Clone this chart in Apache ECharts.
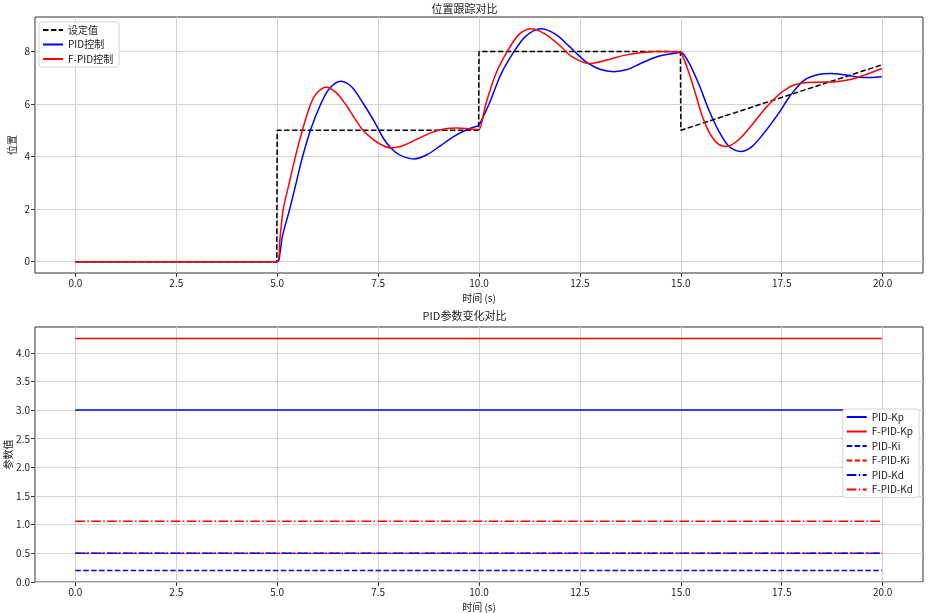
<!DOCTYPE html>
<html>
<head>
<meta charset="utf-8">
<script src="https://cdn.jsdelivr.net/npm/echarts@6/dist/echarts.min.js"></script>
<style>
  html, body { margin: 0; padding: 0; background: #fff; }
  #chart { width: 929px; height: 613px; }
</style>
</head>
<body>
<div id="chart"></div>
<script>
// 时间轴刻度
const timeTicks = [0, 2.5, 5, 7.5, 10, 12.5, 15, 17.5, 20]
const posTicks = [0, 2, 4, 6, 8]
const paramTicks = [0, 0.5, 1, 1.5, 2, 2.5, 3, 3.5, 4]

// 设定值 [t, value]
const setpoint = [[0, 0], [4.99, 0], [5, 5], [9.99, 5], [10, 8], [14.99, 8], [15, 5], [19.98, 7.49]]

// PID控制 响应
const pidCurve = [
  [0, 0], [5.0, 0], [5.07, 0.35], [5.13, 0.97], [5.31, 2.0], [5.47, 3.0], [5.63, 4.0], [5.83, 5.03],
  [6.08, 6.0], [6.3, 6.6], [6.58, 6.87], [6.85, 6.65], [7.14, 6.0], [7.4, 5.35], [7.65, 4.65],
  [7.9, 4.2], [8.14, 3.99], [8.39, 3.91], [8.72, 4.08], [9.05, 4.42], [9.38, 4.77], [9.71, 5.03],
  [9.96, 5.16], [10.0, 5.19], [10.25, 6.0], [10.54, 7.12], [10.87, 8.0], [11.16, 8.58], [11.53, 8.86],
  [11.9, 8.65], [12.23, 8.2], [12.47, 7.85], [12.68, 7.57], [13.01, 7.31], [13.34, 7.23], [13.67, 7.31],
  [14.0, 7.54], [14.41, 7.8], [14.91, 7.95], [15.0, 7.97], [15.2, 7.57], [15.45, 6.74], [15.69, 5.79],
  [15.94, 4.97], [16.19, 4.39], [16.48, 4.19], [16.77, 4.39], [17.1, 4.97], [17.43, 5.66], [17.67, 6.23],
  [17.8, 6.49], [18.05, 6.9], [18.38, 7.11], [18.71, 7.16], [19.04, 7.11], [19.37, 7.03], [19.7, 7.01],
  [19.98, 7.04]
]

// F-PID控制 响应
const fpidCurve = [
  [0, 0], [5.0, 0], [5.07, 0.9], [5.15, 2.0], [5.3, 3.0], [5.45, 4.0], [5.63, 5.03], [5.83, 6.0],
  [6.0, 6.45], [6.22, 6.64], [6.45, 6.45], [6.7, 5.98], [6.9, 5.5], [7.11, 5.03], [7.3, 4.75],
  [7.52, 4.5], [7.81, 4.33], [8.14, 4.43], [8.47, 4.67], [8.8, 4.9], [9.13, 5.05], [9.46, 5.09],
  [9.79, 5.05], [9.96, 5.03], [10.0, 5.02], [10.17, 6.0], [10.41, 7.12], [10.7, 8.0], [10.99, 8.65],
  [11.28, 8.86], [11.65, 8.65], [12.06, 8.14], [12.3, 7.8], [12.72, 7.54], [13.17, 7.67], [13.59, 7.85],
  [14.0, 7.95], [14.41, 8.0], [14.91, 7.99], [15.0, 7.96], [15.2, 7.19], [15.37, 6.36], [15.53, 5.54],
  [15.73, 4.84], [15.94, 4.46], [16.15, 4.38], [16.44, 4.65], [16.77, 5.22], [17.1, 5.85], [17.43, 6.36],
  [17.67, 6.62], [17.8, 6.72], [18.05, 6.81], [18.38, 6.83], [18.79, 6.84], [19.2, 6.93], [19.53, 7.09],
  [19.98, 7.35]
]

// PID参数 (恒定)
const paramTime = [0, 19.98]
const pidKp = [3.0, 3.0]
const fpidKp = [4.25, 4.25]
const pidKi = [0.2, 0.2]
const fpidKi = [0.5, 0.5]
const pidKd = [0.5, 0.5]
const fpidKd = [1.06, 1.06]

const FONT = '"Noto Sans CJK SC", "Noto Sans", sans-serif'
const DASH = [5.5, 2.4]
const DASHDOT = [9.6, 2.4, 1.5, 2.4]

const chart = echarts.init(document.getElementById('chart'))

function xAxisOpt(gridIndex) {
  return {
    type: 'value', gridIndex, min: -1, max: 21,
    name: '时间 (s)', nameLocation: 'middle', nameGap: 20, nameMoveOverlap: false,
    nameTextStyle: { color: '#222', fontSize: 10, fontFamily: FONT },
    axisLine: { show: false, onZero: false },
    axisTick: { show: true, length: 4, customValues: timeTicks, lineStyle: { color: '#333' } },
    axisLabel: { customValues: timeTicks, color: '#222', fontSize: 10, fontFamily: FONT, margin: 5,
      formatter: v => v.toFixed(1) },
    splitLine: { show: true, lineStyle: { color: '#d3d3d3', width: 1 } }
  }
}

function yAxisOpt(gridIndex, name, nameGap, min, max, ticks, digits) {
  return {
    type: 'value', gridIndex, min, max,
    name, nameLocation: 'middle', nameGap, nameMoveOverlap: false,
    nameTextStyle: { color: '#222', fontSize: 10, fontFamily: FONT },
    axisLine: { show: false, onZero: false },
    axisTick: { show: true, length: 4, customValues: ticks, lineStyle: { color: '#333' } },
    axisLabel: { customValues: ticks, color: '#222', fontSize: 10, fontFamily: FONT, margin: 5,
      formatter: v => v.toFixed(digits) },
    splitLine: { show: true, lineStyle: { color: '#d3d3d3', width: 1 } }
  }
}

function line(name, data, color, type, xi, smooth) {
  return {
    name, type: 'line', data, xAxisIndex: xi, yAxisIndex: xi,
    symbol: 'none', showSymbol: false, animation: false, smooth: smooth || false,
    lineStyle: { color, width: 1.5, type },
    itemStyle: { color }
  }
}

const zip = (xs, ys) => xs.map((x, i) => [x, ys[i]])

const legendBase = {
  orient: 'vertical',
  itemWidth: 20, itemHeight: 10, itemGap: 4.5,
  padding: [3, 6, 3, 3],
  backgroundColor: '#fff', borderColor: '#d6d6d6', borderWidth: 1, borderRadius: 3,
  itemStyle: { opacity: 0, borderWidth: 0 },
  textStyle: { fontSize: 10, color: '#222', fontFamily: FONT }
}

chart.setOption({
  backgroundColor: '#fff',
  animation: false,
  title: [
    { text: '位置跟踪对比', left: 'center', top: 3, padding: 0,
      textStyle: { fontSize: 11, fontWeight: 'normal', color: '#222', fontFamily: FONT } },
    { text: 'PID参数变化对比', left: 'center', top: 310, padding: 0,
      textStyle: { fontSize: 11, fontWeight: 'normal', color: '#222', fontFamily: FONT } }
  ],
  legend: [
    Object.assign({ data: ['设定值', 'PID控制', 'F-PID控制'], left: 39, top: 22 }, legendBase),
    Object.assign({ data: ['PID-Kp', 'F-PID-Kp', 'PID-Ki', 'F-PID-Ki', 'PID-Kd', 'F-PID-Kd'], right: 10, top: 409 }, legendBase)
  ],
  grid: [
    { left: 35, right: 6, top: 17, height: 256, outerBoundsMode: 'none', containLabel: false,
      show: true, borderColor: '#333', borderWidth: 1, backgroundColor: 'transparent' },
    { left: 35, right: 6, top: 327, height: 255, outerBoundsMode: 'none', containLabel: false,
      show: true, borderColor: '#333', borderWidth: 1, backgroundColor: 'transparent' }
  ],
  xAxis: [xAxisOpt(0), xAxisOpt(1)],
  yAxis: [
    yAxisOpt(0, '位置', 18, -0.43, 9.31, posTicks, 0),
    yAxisOpt(1, '参数值', 22, 0, 4.45, paramTicks, 1)
  ],
  series: [
    line('设定值', setpoint, '#000', DASH, 0),
    line('PID控制', pidCurve, '#0000ff', 'solid', 0, 0.3),
    line('F-PID控制', fpidCurve, '#ff0000', 'solid', 0, 0.3),
    line('PID-Kp', zip(paramTime, pidKp), '#0000ff', 'solid', 1),
    line('F-PID-Kp', zip(paramTime, fpidKp), '#ff0000', 'solid', 1),
    line('PID-Ki', zip(paramTime, pidKi), '#0000ff', DASH, 1),
    line('F-PID-Ki', zip(paramTime, fpidKi), '#ff0000', DASH, 1),
    line('PID-Kd', zip(paramTime, pidKd), '#0000ff', DASHDOT, 1),
    line('F-PID-Kd', zip(paramTime, fpidKd), '#ff0000', DASHDOT, 1)
  ]
})
</script>
</body>
</html>
